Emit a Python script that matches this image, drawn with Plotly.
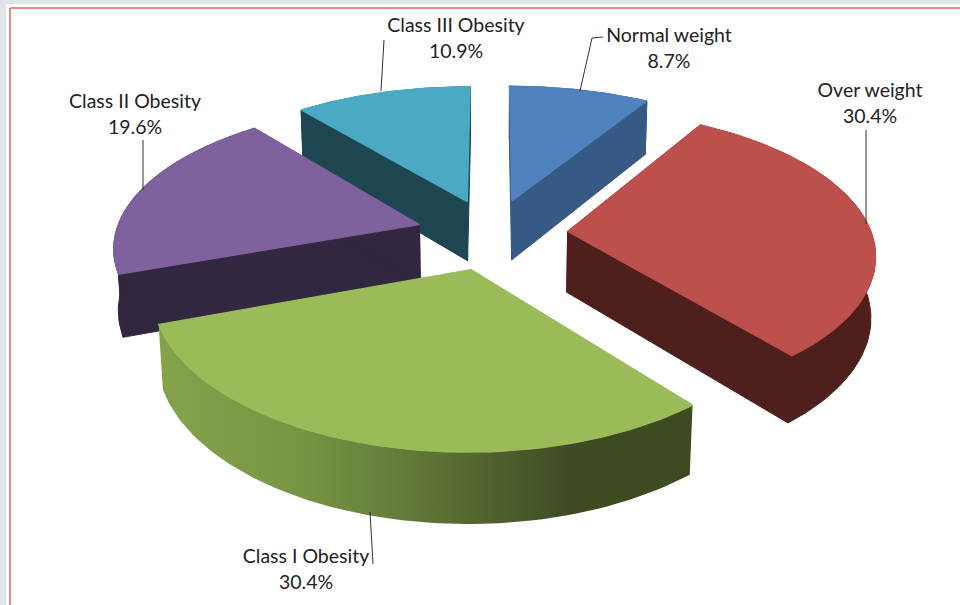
import math
import plotly.graph_objects as go

categories = ["Normal weight", "Over weight", "Class I Obesity", "Class II Obesity", "Class III Obesity"]
values = [8.7, 30.4, 30.4, 19.6, 10.9]
top_colors = ["#4f81bd", "#bd4f4c", "#9bbb59", "#7f619d", "#4aaac4"]
side_colors = ["#375a85", "#4e1f1d", None, "#322740", "#1d4650"]
green_start, green_stop = 155, 690
green_scale = [[0, "#86a34b"], [0.28, "#769544"], [0.46, "#647c3a"], [0.65, "#4e5e2c"], [0.78, "#3e4b21"], [1, "#3e4b21"]]

CX, CY, A, B, C, KX, KY, M, E = 492, 234, 304, 142, 61.5, 0.14, 0.155, 0.012, 0.25
label_pos = [(669, 37), (870, 92), (306, 558), (135, 103), (456, 27)]
leaders = [[(603, 37), (592, 38), (580, 91)], [(866, 130), (866, 224)], [(370, 512), (373, 564)],
           [(143, 140), (143, 190)], [(384, 40), (381, 91)]]


def project(u, v, drop=0.0):
    wx = 1 + KX * v + M * drop
    wy = 1 + KY * v + M * drop
    return CX + A * u / wx, CY - (B * v - C * drop) / wy


def arc(start, end, off, n=80):
    pts = []
    for i in range(n + 1):
        t = start + (end - start) * i / n
        pts.append((off[0] + math.sin(t), off[1] + math.cos(t)))
    return pts


def poly(fig, pts, color, width=1.3, **kw):
    xs = [p[0] for p in pts] + [pts[0][0]]
    ys = [p[1] for p in pts] + [pts[0][1]]
    line = dict(color=color, width=width) if color else dict(width=0)
    fig.add_trace(go.Scatter(x=xs, y=ys, mode="lines", fill="toself", fillcolor=color,
                             line=line, hoverinfo="skip", showlegend=False, **kw))


total = sum(values)
slices = []
acc = 0.0
for i, val in enumerate(values):
    a0 = 2 * math.pi * acc / total
    a1 = 2 * math.pi * (acc + val) / total
    acc += val
    mid = (a0 + a1) / 2
    slices.append((i, a0, a1, (E * math.sin(mid), E * math.cos(mid))))

fig = go.Figure()
for i, a0, a1, off in sorted(slices, key=lambda s: -s[3][1]):
    rim = arc(a0, a1, off)
    side = side_colors[i]
    wall = [project(*p) for p in rim] + [project(*p, 1) for p in reversed(rim)]
    if side is not None:
        for edge in (rim[0], rim[-1]):
            poly(fig, [project(*off), project(*edge), project(*edge, 1), project(*off, 1)], side, width=1.0)
        poly(fig, wall, side, width=1.0)
    else:
        poly(fig, wall, None, fillgradient=dict(type="horizontal", colorscale=green_scale,
                                                start=green_start, stop=green_stop))
    poly(fig, [project(*off)] + [project(*p) for p in rim], top_colors[i])

for pts in leaders:
    fig.add_trace(go.Scatter(x=[p[0] for p in pts], y=[p[1] for p in pts], mode="lines",
                             line=dict(color="#333333", width=1), hoverinfo="skip", showlegend=False))

font = dict(family="Lato", size=19.5, color="#222222")
fig.add_trace(go.Scatter(x=[p[0] for p in label_pos], y=[p[1] for p in label_pos], mode="text",
                         text=categories, textfont=font, hoverinfo="skip", showlegend=False))
fig.add_trace(go.Scatter(x=[p[0] for p in label_pos], y=[p[1] + 26 for p in label_pos], mode="text",
                         text=[f"{v:.1f}%" for v in values], textfont=font, hoverinfo="skip", showlegend=False))

grey = "#e1e4e6"
red = "#e0666a"
fig.update_layout(
    width=960, height=605, margin=dict(l=0, r=0, t=0, b=0),
    paper_bgcolor="white", plot_bgcolor="white",
    xaxis=dict(range=[0, 960], visible=False, fixedrange=True),
    yaxis=dict(range=[605, 0], visible=False, fixedrange=True),
    shapes=[
        dict(type="rect", x0=0, x1=960, y0=0, y1=4, fillcolor=grey, line_width=0, layer="below"),
        dict(type="rect", x0=0, x1=6, y0=0, y1=605, fillcolor=grey, line_width=0, layer="below"),
        dict(type="line", x0=10, x1=960, y0=8, y1=8, line=dict(color=red, width=1.5), layer="below"),
        dict(type="line", x0=10, x1=10, y0=8, y1=605, line=dict(color=red, width=1.5), layer="below"),
    ],
)
fig.write_html("out.html", config=dict(displayModeBar=False),
               post_script="document.body.style.margin='0';document.body.style.overflow='hidden';")
